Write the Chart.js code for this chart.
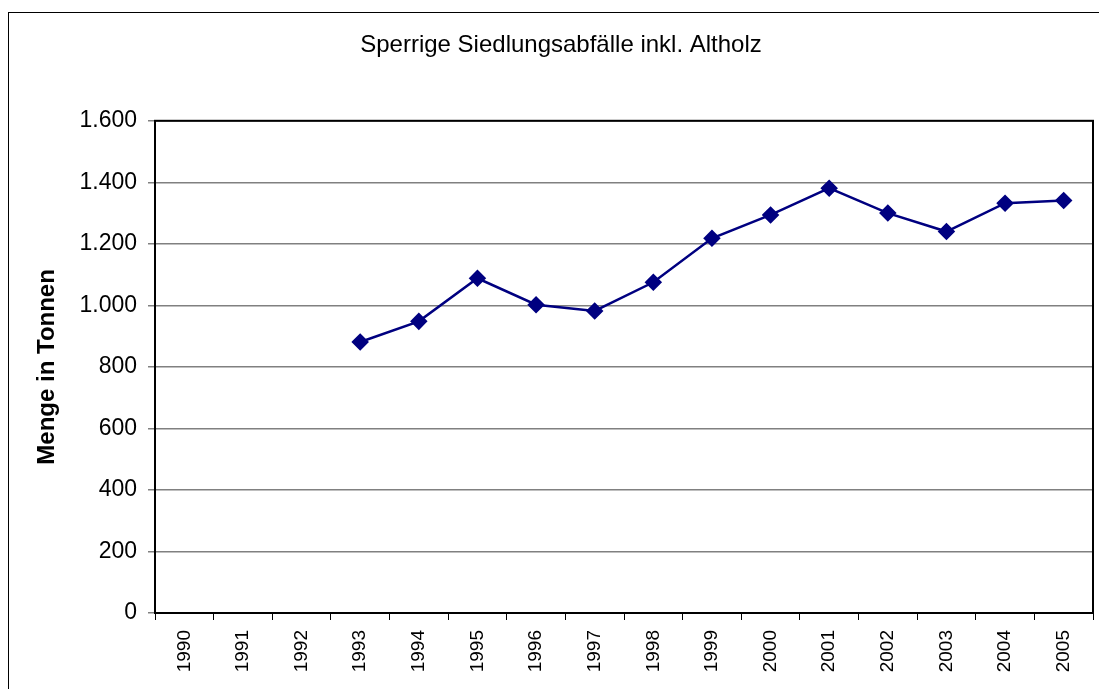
<!DOCTYPE html>
<html>
<head>
<meta charset="utf-8">
<script src="https://cdn.jsdelivr.net/npm/chart.js@4/dist/chart.umd.min.js"></script>
<style>
  body { margin: 0; background: #fff; }
  canvas { display: block; }
</style>
</head>
<body>
<canvas id="wasteChart" width="1099" height="689"></canvas>
<script>
const years = ['1990', '1991', '1992', '1993', '1994', '1995', '1996', '1997',
               '1998', '1999', '2000', '2001', '2002', '2003', '2004', '2005'];
const tonnes = [null, null, null, 881, 948, 1088, 1002, 982,
                1075, 1218, 1294, 1381, 1300, 1240, 1332, 1341];
const yTicks = [0, 200, 400, 600, 800, 1000, 1200, 1400, 1600];

const FONT = '"Liberation Sans", Arial, sans-serif';

// thousands separator like the German original (1.600)
function formatDe(v) {
    return String(v).replace(/\B(?=(\d{3})+(?!\d))/g, '.');
}

// outer frame and black plot border, like the spreadsheet chart
const framePlugin = {
    id: 'frame',
    beforeDraw(chart) {
        const ctx = chart.ctx;
        ctx.save();
        ctx.fillStyle = '#fff';
        ctx.fillRect(0, 0, chart.width, chart.height);
        ctx.strokeStyle = '#000';
        ctx.lineWidth = 1;
        ctx.strokeRect(8.5, 12.5, chart.width + 20, chart.height + 20);
        ctx.restore();
    },
    afterDatasetsDraw(chart) {
        const a = chart.chartArea;
        const ctx = chart.ctx;
        ctx.save();
        ctx.strokeStyle = '#000';
        ctx.lineWidth = 2;
        ctx.strokeRect(a.left, a.top, a.right - a.left, a.bottom - a.top);
        ctx.restore();
    }
};

new Chart(document.getElementById('wasteChart').getContext('2d'), {
    type: 'line',
    data: {
        labels: years,
        datasets: [{
            label: 'Sperrige Siedlungsabfälle',
            data: tonnes,
            borderColor: '#000080',
            backgroundColor: '#000080',
            borderWidth: 2.5,
            pointStyle: 'rectRot',
            pointRadius: 7,
            pointBackgroundColor: '#000080',
            pointBorderColor: '#000080',
            tension: 0
        }]
    },
    options: {
        responsive: false,
        animation: false,
        layout: {
            autoPadding: false,
            padding: { left: 29, right: 6, top: 0, bottom: 0 }
        },
        plugins: {
            legend: { display: false },
            tooltip: { enabled: false },
            title: {
                display: true,
                text: 'Sperrige Siedlungsabfälle inkl. Altholz',
                color: '#000',
                font: { family: FONT, size: 24, weight: 'normal' },
                padding: { top: 31, bottom: 61 }
            }
        },
        scales: {
            x: {
                offset: true,
                grid: {
                    offset: true,
                    drawOnChartArea: false,
                    color: '#000',
                    tickLength: 7
                },
                border: { color: '#000', width: 2 },
                ticks: {
                    color: '#000',
                    font: { family: FONT, size: 19 },
                    minRotation: 90,
                    maxRotation: 90,
                    autoSkip: false,
                    padding: 10
                },
                afterFit(scale) {
                    scale.height = 76;
                    scale.paddingLeft = 0;
                    scale.paddingRight = 0;
                }
            },
            y: {
                min: 0,
                max: 1600,
                afterBuildTicks(scale) {
                    scale.ticks = yTicks.map(v => ({ value: v }));
                },
                grid: {
                    color: '#808080',
                    lineWidth: 1.5,
                    tickLength: 7
                },
                border: { color: '#000', width: 2 },
                ticks: {
                    color: '#000',
                    font: { family: FONT, size: 23 },
                    padding: 11,
                    callback: v => formatDe(v)
                },
                title: {
                    display: true,
                    text: 'Menge in Tonnen',
                    color: '#000',
                    font: { family: FONT, size: 24, weight: 'bold' },
                    padding: { top: 4, bottom: 0 }
                },
                afterFit(scale) {
                    scale.width = 126;
                }
            }
        }
    },
    plugins: [framePlugin]
});
</script>
</body>
</html>
